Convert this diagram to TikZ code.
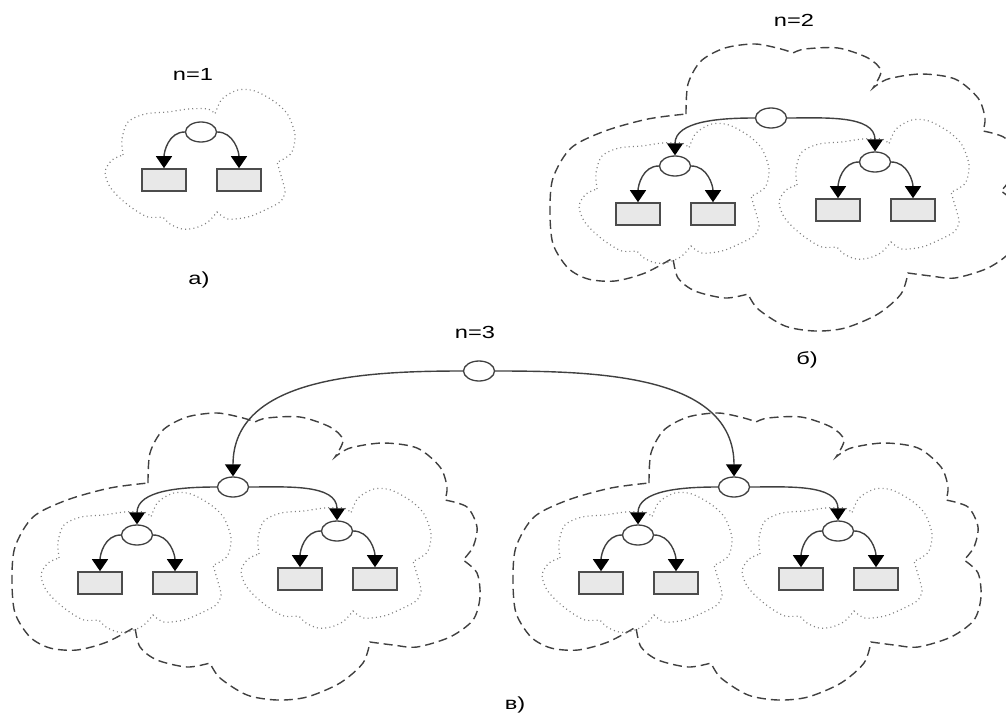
\documentclass[tikz,border=0pt]{standalone}
\usepackage{fontspec}
\setmainfont{Liberation Sans}
\usepackage{graphicx}
\usetikzlibrary{arrows.meta,shapes.geometric}
\tikzset{
  ell/.style={ellipse, draw=black!75, fill=white, line width=1.3pt, minimum width=31pt, minimum height=20pt, inner sep=0pt},
  leaf/.style={rectangle, draw=black!70, fill=black!9, line width=1.6pt, minimum width=44pt, minimum height=22pt, inner sep=0pt},
  conn/.style={draw=black!75, line width=1.4pt, -{Triangle[width=16pt,length=12pt,color=black]}},
  dotcloud/.style={draw=black!50, line width=1.2pt, dash pattern=on 1pt off 3.2pt},
  dashcloud/.style={draw=black!75, line width=1.4pt, dash pattern=on 9pt off 5pt},
  lbl/.style={font=\fontsize{17.5}{20}\selectfont, text=black, inner sep=0pt}
}
\newcommand\unitone[3]{%
  \begin{scope}[shift={(#2,#3)}]
    \draw[dotcloud]
      plot[smooth] coordinates {(-78,23) (-79,7) (-73,-10) (-56,-18) (-33,-20) (-13,-23) (7,-23) (14,-18)}
      -- plot[smooth] coordinates {(14,-18) (21,-33) (37,-42) (54,-41) (74,-30) (87,-17) (94,3) (91,20) (81,28) (76,30)}
      -- plot[smooth] coordinates {(76,30) (81,47) (84,60) (79,70) (64,78) (47,85) (27,87) (16,80)}
      -- plot[smooth] coordinates {(16,80) (7,90) (-6,96) (-19,97) (-31,92) (-38,85)}
      -- plot[smooth] coordinates {(-38,85) (-53,85) (-66,78) (-79,68) (-91,55) (-96,40) (-89,28) (-78,23)};
    \node[ell] (#1) at (0,0) {};
    \node[leaf] (#1l) at (-37,48) {};
    \node[leaf] (#1r) at (38,48) {};
  \end{scope}
  \draw[conn] (#1.west) to[out=180,in=90] (#1l.north);
  \draw[conn] (#1.east) to[out=0,in=90] (#1r.north);
}
\newcommand\unittwo[3]{%
  \begin{scope}[shift={(#2,#3)}]
    \draw[dashcloud]
      plot[smooth] coordinates {(-85,-4) (-83,-34) (-70,-57) (-46,-70) (-16,-74) (10,-69) (22,-65)}
      -- plot[smooth] coordinates {(22,-65) (34,-69) (67,-70) (97,-60) (110,-47) (102,-30)}
      -- plot[smooth] coordinates {(102,-30) (117,-39) (150,-44) (184,-39) (207,-20) (214,0) (212,13)}
      -- plot[smooth] coordinates {(212,13) (234,20) (244,40) (240,60) (230,73)}
      -- plot[smooth] coordinates {(230,73) (244,86) (247,110) (240,133) (217,150) (184,160) (160,158) (137,155)}
      -- plot[smooth] coordinates {(137,155) (130,176) (107,196) (74,210) (44,213) (14,208) (-13,191) (-23,176)}
      -- plot[smooth] coordinates {(-23,176) (-46,180) (-76,173) (-93,160) (-98,140)}
      -- plot[smooth] coordinates {(-98,140) (-126,155) (-156,163) (-183,161) (-203,150) (-218,126) (-221,93) (-218,60) (-200,30) (-166,13) (-123,1) (-85,-4)};
    \unitone{#1a}{-96}{48}
    \unitone{#1b}{104}{44}
    \node[ell] (#1) at (0,0) {};
  \end{scope}
  \draw[conn] (#1.west) to[out=180,in=90] (#1a.north);
  \draw[conn] (#1.east) to[out=0,in=90] (#1b.north);
}
\begin{document}
\begin{tikzpicture}[x=1pt,y=-1pt]
  \useasboundingbox (0,0) rectangle (1006,717);
  % a) n=1
  \node[lbl] (t1) at (193,74) {\scalebox{1.35}[1]{n=1}};
  \unitone{A}{201}{132}
  \node[lbl] (la) at (199,280) {\scalebox{1.35}[1]{а)}};
  % b) n=2
  \node[lbl] (t2) at (794,20) {\scalebox{1.35}[1]{n=2}};
  \unittwo{B}{771}{118}
  \node[lbl] (lb) at (807,360) {\scalebox{1.35}[1]{б)}};
  % c) n=3
  \node[lbl] (t3) at (475,332) {\scalebox{1.35}[1]{n=3}};
  \unittwo{CL}{233}{487}
  \unittwo{CR}{734}{487}
  \node[ell] (C) at (479,371) {};
  \draw[conn] (C.west) to[out=180,in=90] (CL.north);
  \draw[conn] (C.east) to[out=0,in=90] (CR.north);
  \node[lbl] (lc) at (515,705) {\scalebox{1.35}[1]{в)}};
\end{tikzpicture}
\end{document}
